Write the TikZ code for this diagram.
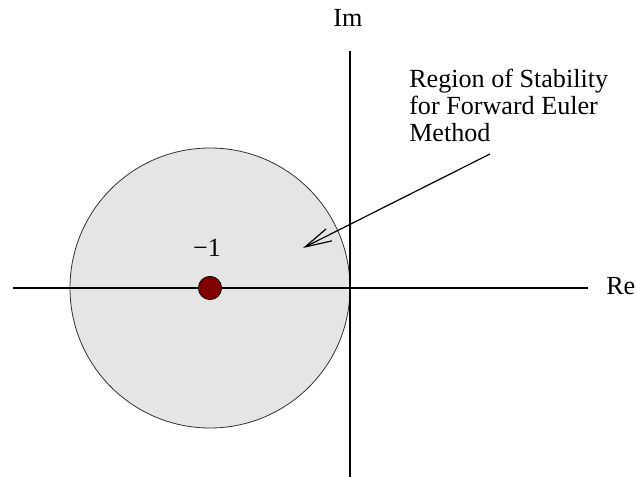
\documentclass[tikz,border=0pt]{standalone}
\usepackage{fontspec}
\setmainfont{Liberation Serif}
\usetikzlibrary{arrows.meta}
\definecolor{regionfill}{RGB}{229,229,229}
\definecolor{poledot}{RGB}{128,0,0}

\begin{document}
\begin{tikzpicture}[
  x=0.75pt, y=0.75pt,
  font=\fontsize{19.6}{20.25}\selectfont,
  axis/.style={black, line width=0.8pt},
  region/.style={draw=black!80, fill=regionfill, line width=0.6pt},
  pole/.style={circle, draw=black, fill=poledot, line width=0.5pt, inner sep=0pt, minimum size=17.5pt},
  lab/.style={inner sep=0pt},
  pointer/.style={black, line width=0.9pt, -{Straight Barb[length=20pt, width=10pt, line width=0.9pt]}}]

\useasboundingbox (-350,-189) rectangle (286,288);

% region |1+z| <= 1
\draw[region] (-140,0) circle[radius=140];

% axes
\coordinate (reL) at (-337,0);
\coordinate (reR) at (238,0);
\coordinate (imT) at (0,237);
\coordinate (imB) at (0,-189);
\draw[axis] (reL) -- (reR);
\draw[axis] (imT) -- (imB);
\node[lab, anchor=base] (im) at (-2,261) {Im};
\node[lab, anchor=base west] (re) at (256,-7) {Re};

% the point -1
\node[pole] (m1) at (-140,0) {};
\node[lab, anchor=base] (m1lab) at (-143,31) {−1};

% label and arrow
\node[lab, anchor=base west, align=left] (note) at (59,146)
  {Region of Stability\\for Forward Euler\\Method};
\coordinate (ptrfrom) at (140,134);
\coordinate (ptrto) at (-47,40);
\draw[pointer] (ptrfrom) -- (ptrto);
\end{tikzpicture}
\end{document}
